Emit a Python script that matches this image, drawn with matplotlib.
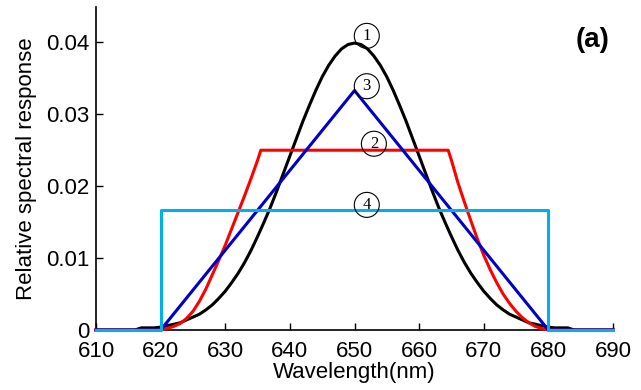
import matplotlib.pyplot as plt

# curve 1 (black): bell shaped response, read at 1 nm steps
wl_1 = [610, 616] + list(range(617, 684)) + [684, 690]
resp_1 = [0, 0,
          0.0003, 0.0003, 0.0003,                                   # 617-619
          0.0004, 0.0006, 0.0008, 0.0010, 0.0014, 0.0018, 0.0022,   # 620-626
          0.0028, 0.0035, 0.0044, 0.0054, 0.0066, 0.0079, 0.0094,   # 627-633
          0.0111, 0.0130, 0.0150, 0.0171, 0.0194, 0.0218, 0.0242,   # 634-640
          0.0266, 0.0290, 0.0312, 0.0333, 0.0352, 0.0368, 0.0381,   # 641-647
          0.0391, 0.0397, 0.0399, 0.0397, 0.0391, 0.0381, 0.0368,   # 648-654
          0.0352, 0.0333, 0.0312, 0.0290, 0.0266, 0.0242, 0.0218,   # 655-661
          0.0194, 0.0171, 0.0150, 0.0130, 0.0111, 0.0094, 0.0079,   # 662-668
          0.0066, 0.0054, 0.0044, 0.0035, 0.0028, 0.0022, 0.0018,   # 669-675
          0.0014, 0.0010, 0.0008, 0.0006, 0.0004,                   # 676-680
          0.0003, 0.0003, 0.0003,                                   # 681-683
          0, 0]

# curve 2 (red): trapezoid
wl_2 = [610, 620, 621, 622, 623, 624, 625, 626, 627, 628, 629, 630, 631, 632, 633, 634, 635, 635.5,
        664.5, 665, 666, 667, 668, 669, 670, 671, 672, 673, 674, 675, 676, 677, 678, 679, 680, 690]
resp_2 = [0, 0, 0.0002, 0.0005, 0.0009, 0.0016, 0.0026, 0.0040, 0.0057, 0.0077, 0.0097, 0.0118,
          0.0141, 0.0164, 0.0187, 0.0211, 0.0236, 0.025,
          0.025, 0.0236, 0.0205, 0.0178, 0.0152, 0.0127, 0.0104, 0.0084, 0.0066, 0.0050,
          0.0037, 0.0026, 0.0017, 0.0010, 0.0005, 0.0002, 0, 0]

# curve 3 (blue): triangle
wl_3 = [610, 620, 650, 680, 690]
resp_3 = [0, 0, 0.0333, 0, 0]

# curve 4 (cyan): rectangle
wl_4 = [610, 620, 620, 680, 680, 690]
resp_4 = [0, 0, 0.01667, 0.01667, 0, 0]

labels = ["1", "2", "3", "4"]
label_x = [651.9, 653.0, 651.9, 651.9]
label_y = [0.0409, 0.0259, 0.0339, 0.0174]

x_ticks = list(range(610, 700, 10))
y_ticks = [0, 0.01, 0.02, 0.03, 0.04]
y_ticklabels = ["0", "0.01", "0.02", "0.03", "0.04"]

plt.rcParams['font.family'] = ['Liberation Sans', 'DejaVu Sans']

fig = plt.figure(figsize=(6.41, 3.90), dpi=100)
ax = fig.add_axes([0.1498, 0.1538, 0.8065, 0.828])

lw = 2.2
ax.plot(wl_1, resp_1, color='black', lw=lw, clip_on=False, zorder=3)
ax.plot(wl_2, resp_2, color='#ff0000', lw=lw, clip_on=False, zorder=3)
ax.plot(wl_3, resp_3, color='#0000c8', lw=lw, clip_on=False, zorder=3)
ax.plot(wl_4, resp_4, color='#00b0e8', lw=lw, clip_on=False, zorder=4)

for t, x, y in zip(labels, label_x, label_y):
    ax.text(x, y, t, ha='center', va='center', fontsize=12, family='Liberation Serif',
            bbox=dict(boxstyle='circle,pad=0.27', fc='none', ec='black', lw=0.8), zorder=5)

ax.text(686.9, 0.0403, "(a)", ha='center', va='center', fontsize=20, fontweight='bold')

ax.set_xlim(610, 690)
ax.set_ylim(0, 0.0449)
ax.set_xticks(x_ticks)
ax.set_yticks(y_ticks)
ax.set_yticklabels(y_ticklabels)
ax.tick_params(direction='in', length=5, width=1, labelsize=16)
ax.tick_params(axis='x', pad=8)
ax.tick_params(axis='y', pad=5)
ax.spines['top'].set_visible(False)
ax.spines['right'].set_visible(False)
for s in ['left', 'bottom']:
    ax.spines[s].set_linewidth(1.2)

ax.set_xlabel("Wavelength(nm)", fontsize=16, labelpad=0)
ax.set_ylabel("Relative spectral response", fontsize=16, labelpad=6)

fig.savefig("out.png", dpi=100)
